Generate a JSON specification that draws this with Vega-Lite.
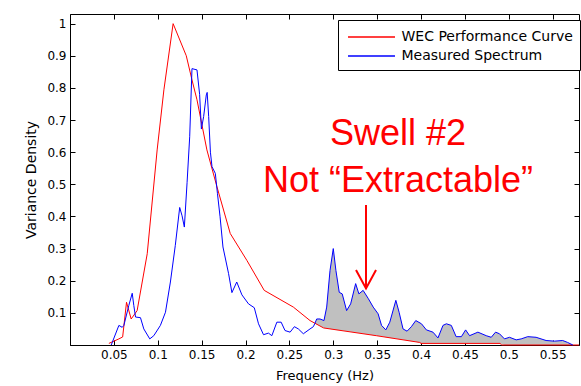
{
  "$schema": "https://vega.github.io/schema/vega-lite/v6.json",
  "width": 509,
  "height": 331,
  "autosize": {"type": "none"},
  "padding": {"left": 70, "top": 14, "right": 2, "bottom": 41},
  "background": "white",
  "config": {
    "view": {"stroke": "black", "strokeWidth": 1},
    "axis": {
      "grid": false,
      "domainColor": "black",
      "tickColor": "black",
      "labelColor": "black",
      "titleColor": "black",
      "labelFont": "DejaVu Sans",
      "titleFont": "DejaVu Sans",
      "labelFontSize": 12,
      "titleFontSize": 13,
      "titleFontWeight": "normal",
      "tickSize": -5,
      "tickWidth": 1
    }
  },
  "datasets": {
    "curves": [
      {"series": "WEC Performance Curve", "f": 0.0443, "v": 0.005},
      {"series": "WEC Performance Curve", "f": 0.0557, "v": 0.019},
      {"series": "WEC Performance Curve", "f": 0.06, "v": 0.025},
      {"series": "WEC Performance Curve", "f": 0.0644, "v": 0.133},
      {"series": "WEC Performance Curve", "f": 0.0697, "v": 0.081},
      {"series": "WEC Performance Curve", "f": 0.0765, "v": 0.107},
      {"series": "WEC Performance Curve", "f": 0.088, "v": 0.284},
      {"series": "WEC Performance Curve", "f": 0.0993, "v": 0.607},
      {"series": "WEC Performance Curve", "f": 0.107, "v": 0.794},
      {"series": "WEC Performance Curve", "f": 0.1175, "v": 1.0},
      {"series": "WEC Performance Curve", "f": 0.1325, "v": 0.9},
      {"series": "WEC Performance Curve", "f": 0.139, "v": 0.825},
      {"series": "WEC Performance Curve", "f": 0.1447, "v": 0.763},
      {"series": "WEC Performance Curve", "f": 0.156, "v": 0.607},
      {"series": "WEC Performance Curve", "f": 0.1675, "v": 0.492},
      {"series": "WEC Performance Curve", "f": 0.1826, "v": 0.347},
      {"series": "WEC Performance Curve", "f": 0.2016, "v": 0.263},
      {"series": "WEC Performance Curve", "f": 0.2213, "v": 0.17},
      {"series": "WEC Performance Curve", "f": 0.2545, "v": 0.118},
      {"series": "WEC Performance Curve", "f": 0.2735, "v": 0.076},
      {"series": "WEC Performance Curve", "f": 0.289, "v": 0.053},
      {"series": "WEC Performance Curve", "f": 0.349, "v": 0.029},
      {"series": "WEC Performance Curve", "f": 0.3985, "v": 0.008},
      {"series": "WEC Performance Curve", "f": 0.4, "v": 0.005},
      {"series": "WEC Performance Curve", "f": 0.49, "v": 0.005},
      {"series": "WEC Performance Curve", "f": 0.492, "v": 0.0},
      {"series": "WEC Performance Curve", "f": 0.58, "v": 0.0},
      {"series": "Measured Spectrum", "f": 0.047, "v": 0.0},
      {"series": "Measured Spectrum", "f": 0.0557, "v": 0.061},
      {"series": "Measured Spectrum", "f": 0.0595, "v": 0.055},
      {"series": "Measured Spectrum", "f": 0.0614, "v": 0.061},
      {"series": "Measured Spectrum", "f": 0.067, "v": 0.123},
      {"series": "Measured Spectrum", "f": 0.0709, "v": 0.161},
      {"series": "Measured Spectrum", "f": 0.0727, "v": 0.123},
      {"series": "Measured Spectrum", "f": 0.0747, "v": 0.087},
      {"series": "Measured Spectrum", "f": 0.0803, "v": 0.085},
      {"series": "Measured Spectrum", "f": 0.0841, "v": 0.05},
      {"series": "Measured Spectrum", "f": 0.0909, "v": 0.019},
      {"series": "Measured Spectrum", "f": 0.0955, "v": 0.029},
      {"series": "Measured Spectrum", "f": 0.103, "v": 0.061},
      {"series": "Measured Spectrum", "f": 0.1088, "v": 0.102},
      {"series": "Measured Spectrum", "f": 0.1144, "v": 0.196},
      {"series": "Measured Spectrum", "f": 0.12, "v": 0.31},
      {"series": "Measured Spectrum", "f": 0.125, "v": 0.428},
      {"series": "Measured Spectrum", "f": 0.1277, "v": 0.402},
      {"series": "Measured Spectrum", "f": 0.1303, "v": 0.367},
      {"series": "Measured Spectrum", "f": 0.1334, "v": 0.505},
      {"series": "Measured Spectrum", "f": 0.1364, "v": 0.648},
      {"series": "Measured Spectrum", "f": 0.139, "v": 0.86},
      {"series": "Measured Spectrum", "f": 0.1447, "v": 0.856},
      {"series": "Measured Spectrum", "f": 0.1477, "v": 0.78},
      {"series": "Measured Spectrum", "f": 0.1497, "v": 0.672},
      {"series": "Measured Spectrum", "f": 0.1523, "v": 0.711},
      {"series": "Measured Spectrum", "f": 0.1553, "v": 0.778},
      {"series": "Measured Spectrum", "f": 0.1563, "v": 0.786},
      {"series": "Measured Spectrum", "f": 0.158, "v": 0.711},
      {"series": "Measured Spectrum", "f": 0.16, "v": 0.6},
      {"series": "Measured Spectrum", "f": 0.1618, "v": 0.555},
      {"series": "Measured Spectrum", "f": 0.1656, "v": 0.534},
      {"series": "Measured Spectrum", "f": 0.168, "v": 0.472},
      {"series": "Measured Spectrum", "f": 0.171, "v": 0.399},
      {"series": "Measured Spectrum", "f": 0.1743, "v": 0.305},
      {"series": "Measured Spectrum", "f": 0.1807, "v": 0.222},
      {"series": "Measured Spectrum", "f": 0.1845, "v": 0.163},
      {"series": "Measured Spectrum", "f": 0.19, "v": 0.196},
      {"series": "Measured Spectrum", "f": 0.1959, "v": 0.156},
      {"series": "Measured Spectrum", "f": 0.2034, "v": 0.128},
      {"series": "Measured Spectrum", "f": 0.21, "v": 0.116},
      {"series": "Measured Spectrum", "f": 0.2148, "v": 0.066},
      {"series": "Measured Spectrum", "f": 0.2205, "v": 0.032},
      {"series": "Measured Spectrum", "f": 0.2261, "v": 0.037},
      {"series": "Measured Spectrum", "f": 0.23, "v": 0.029},
      {"series": "Measured Spectrum", "f": 0.2357, "v": 0.071},
      {"series": "Measured Spectrum", "f": 0.2406, "v": 0.071},
      {"series": "Measured Spectrum", "f": 0.245, "v": 0.045},
      {"series": "Measured Spectrum", "f": 0.2508, "v": 0.04},
      {"series": "Measured Spectrum", "f": 0.2557, "v": 0.057},
      {"series": "Measured Spectrum", "f": 0.2602, "v": 0.05},
      {"series": "Measured Spectrum", "f": 0.2659, "v": 0.035},
      {"series": "Measured Spectrum", "f": 0.2735, "v": 0.05},
      {"series": "Measured Spectrum", "f": 0.2773, "v": 0.057},
      {"series": "Measured Spectrum", "f": 0.279, "v": 0.067, "base": 0.067},
      {"series": "Measured Spectrum", "f": 0.2811, "v": 0.081, "base": 0.064},
      {"series": "Measured Spectrum", "f": 0.2849, "v": 0.081, "base": 0.059},
      {"series": "Measured Spectrum", "f": 0.2894, "v": 0.076, "base": 0.053},
      {"series": "Measured Spectrum", "f": 0.2925, "v": 0.118, "base": 0.052},
      {"series": "Measured Spectrum", "f": 0.2963, "v": 0.232, "base": 0.05},
      {"series": "Measured Spectrum", "f": 0.3, "v": 0.3, "base": 0.049},
      {"series": "Measured Spectrum", "f": 0.303, "v": 0.232, "base": 0.047},
      {"series": "Measured Spectrum", "f": 0.3068, "v": 0.164, "base": 0.046},
      {"series": "Measured Spectrum", "f": 0.3102, "v": 0.159, "base": 0.045},
      {"series": "Measured Spectrum", "f": 0.3152, "v": 0.107, "base": 0.043},
      {"series": "Measured Spectrum", "f": 0.3198, "v": 0.128, "base": 0.041},
      {"series": "Measured Spectrum", "f": 0.3255, "v": 0.191, "base": 0.038},
      {"series": "Measured Spectrum", "f": 0.3292, "v": 0.159, "base": 0.037},
      {"series": "Measured Spectrum", "f": 0.334, "v": 0.17, "base": 0.035},
      {"series": "Measured Spectrum", "f": 0.34, "v": 0.144, "base": 0.033},
      {"series": "Measured Spectrum", "f": 0.3455, "v": 0.118, "base": 0.03},
      {"series": "Measured Spectrum", "f": 0.3511, "v": 0.097, "base": 0.028},
      {"series": "Measured Spectrum", "f": 0.355, "v": 0.061, "base": 0.027},
      {"series": "Measured Spectrum", "f": 0.3599, "v": 0.047, "base": 0.024},
      {"series": "Measured Spectrum", "f": 0.3644, "v": 0.071, "base": 0.022},
      {"series": "Measured Spectrum", "f": 0.3713, "v": 0.139, "base": 0.02},
      {"series": "Measured Spectrum", "f": 0.375, "v": 0.102, "base": 0.018},
      {"series": "Measured Spectrum", "f": 0.3795, "v": 0.05, "base": 0.016},
      {"series": "Measured Spectrum", "f": 0.3841, "v": 0.043, "base": 0.014},
      {"series": "Measured Spectrum", "f": 0.389, "v": 0.057, "base": 0.012},
      {"series": "Measured Spectrum", "f": 0.394, "v": 0.076, "base": 0.01},
      {"series": "Measured Spectrum", "f": 0.4005, "v": 0.066, "base": 0.005},
      {"series": "Measured Spectrum", "f": 0.4061, "v": 0.047, "base": 0.005},
      {"series": "Measured Spectrum", "f": 0.4136, "v": 0.04, "base": 0.005},
      {"series": "Measured Spectrum", "f": 0.4193, "v": 0.022, "base": 0.005},
      {"series": "Measured Spectrum", "f": 0.425, "v": 0.061, "base": 0.005},
      {"series": "Measured Spectrum", "f": 0.4289, "v": 0.066, "base": 0.005},
      {"series": "Measured Spectrum", "f": 0.4345, "v": 0.061, "base": 0.005},
      {"series": "Measured Spectrum", "f": 0.44, "v": 0.026, "base": 0.005},
      {"series": "Measured Spectrum", "f": 0.446, "v": 0.026, "base": 0.005},
      {"series": "Measured Spectrum", "f": 0.4508, "v": 0.047, "base": 0.005},
      {"series": "Measured Spectrum", "f": 0.4553, "v": 0.029, "base": 0.005},
      {"series": "Measured Spectrum", "f": 0.4648, "v": 0.04, "base": 0.005},
      {"series": "Measured Spectrum", "f": 0.4743, "v": 0.029, "base": 0.005},
      {"series": "Measured Spectrum", "f": 0.48, "v": 0.024, "base": 0.005},
      {"series": "Measured Spectrum", "f": 0.4849, "v": 0.04, "base": 0.005},
      {"series": "Measured Spectrum", "f": 0.4894, "v": 0.035, "base": 0.005},
      {"series": "Measured Spectrum", "f": 0.4951, "v": 0.019, "base": 0.0},
      {"series": "Measured Spectrum", "f": 0.5008, "v": 0.024, "base": 0.0},
      {"series": "Measured Spectrum", "f": 0.5084, "v": 0.016, "base": 0.0},
      {"series": "Measured Spectrum", "f": 0.5141, "v": 0.019, "base": 0.0},
      {"series": "Measured Spectrum", "f": 0.5216, "v": 0.026, "base": 0.0},
      {"series": "Measured Spectrum", "f": 0.5311, "v": 0.024, "base": 0.0},
      {"series": "Measured Spectrum", "f": 0.5425, "v": 0.014, "base": 0.0},
      {"series": "Measured Spectrum", "f": 0.5519, "v": 0.012, "base": 0.0},
      {"series": "Measured Spectrum", "f": 0.5614, "v": 0.014, "base": 0.0},
      {"series": "Measured Spectrum", "f": 0.567, "v": 0.008, "base": 0.0},
      {"series": "Measured Spectrum", "f": 0.573, "v": 0.0, "base": 0.0}
    ],
    "notes": [
      {"f": 0.3737, "v": 0.622, "label": "Swell #2"},
      {"f": 0.3737, "v": 0.477, "label": "Not “Extractable”"}
    ],
    "arrow": [
      {"part": "shaft", "o": 1, "f": 0.3373, "v": 0.4356},
      {"part": "shaft", "o": 2, "f": 0.3373, "v": 0.176},
      {"part": "head", "o": 1, "f": 0.3259, "v": 0.2334},
      {"part": "head", "o": 2, "f": 0.3373, "v": 0.176},
      {"part": "head", "o": 3, "f": 0.3487, "v": 0.2334}
    ]
  },
  "layer": [
    {
      "data": {"name": "curves"},
      "transform": [{"filter": "datum.base != null"}],
      "mark": {"type": "area", "color": "#c0c0c0", "opacity": 1},
      "encoding": {
        "x": {
          "field": "f", "type": "quantitative",
          "scale": {"domain": [0, 0.58], "nice": false, "zero": false},
          "axis": {
            "orient": "bottom",
            "values": [0.05, 0.1, 0.15, 0.2, 0.25, 0.3, 0.35, 0.4, 0.45, 0.5, 0.55],
            "format": ".2~f",
            "labelPadding": 9,
            "title": "Frequency (Hz)",
            "titlePadding": 9
          }
        },
        "y": {
          "field": "v", "type": "quantitative",
          "scale": {"domain": [0, 1.03], "nice": false, "zero": false},
          "axis": {
            "orient": "left",
            "values": [0.1, 0.2, 0.3, 0.4, 0.5, 0.6, 0.7, 0.8, 0.9, 1],
            "format": ".2~f",
            "labelPadding": 9,
            "title": "Variance Density",
            "titleFontSize": 14,
            "titlePadding": 8
          }
        },
        "y2": {"field": "base"}
      }
    },
    {
      "data": {"name": "curves"},
      "mark": {"type": "line", "strokeWidth": 1},
      "encoding": {
        "x": {
          "field": "f", "type": "quantitative",
          "scale": {"domain": [0, 0.58], "nice": false, "zero": false},
          "axis": {
            "orient": "top",
            "values": [0.05, 0.1, 0.15, 0.2, 0.25, 0.3, 0.35, 0.4, 0.45, 0.5, 0.55],
            "labels": false, "domain": false, "title": null
          }
        },
        "y": {
          "field": "v", "type": "quantitative",
          "scale": {"domain": [0, 1.03], "nice": false, "zero": false},
          "axis": {
            "orient": "right",
            "values": [0.1, 0.2, 0.3, 0.4, 0.5, 0.6, 0.7, 0.8, 0.9, 1],
            "labels": false, "domain": false, "title": null
          }
        },
        "color": {
          "field": "series", "type": "nominal",
          "scale": {"domain": ["WEC Performance Curve", "Measured Spectrum"], "range": ["#ff0000", "#0000ff"]},
          "legend": {
            "title": null,
            "orient": "none",
            "legendX": 268,
            "legendY": 6,
            "direction": "vertical",
            "strokeColor": "black",
            "fillColor": "white",
            "padding": 7,
            "symbolType": "M-2.61,0H2.61",
            "symbolSize": 324,
            "symbolStrokeWidth": 1.5,
            "symbolOffset": 16.5,
            "labelFont": "DejaVu Sans",
            "labelFontSize": 14,
            "labelColor": "black",
            "labelOffset": 20,
            "labelLimit": 300,
            "rowPadding": 2
          }
        }
      }
    },
    {
      "data": {"name": "arrow"},
      "mark": {"type": "line", "color": "#ff0000", "strokeWidth": 2},
      "encoding": {
        "x": {"field": "f", "type": "quantitative", "scale": {"domain": [0, 0.58], "nice": false, "zero": false}, "axis": null},
        "y": {"field": "v", "type": "quantitative", "scale": {"domain": [0, 1.03], "nice": false, "zero": false}, "axis": null},
        "detail": {"field": "part"},
        "order": {"field": "o"}
      }
    },
    {
      "data": {"name": "notes"},
      "mark": {"type": "text", "color": "#ff0000", "font": "Liberation Sans", "fontSize": 36, "align": "center", "baseline": "alphabetic"},
      "encoding": {
        "x": {"field": "f", "type": "quantitative", "scale": {"domain": [0, 0.58], "nice": false, "zero": false}, "axis": null},
        "y": {"field": "v", "type": "quantitative", "scale": {"domain": [0, 1.03], "nice": false, "zero": false}, "axis": null},
        "text": {"field": "label"}
      }
    }
  ],
  "resolve": {"axis": {"x": "independent", "y": "independent"}}
}
